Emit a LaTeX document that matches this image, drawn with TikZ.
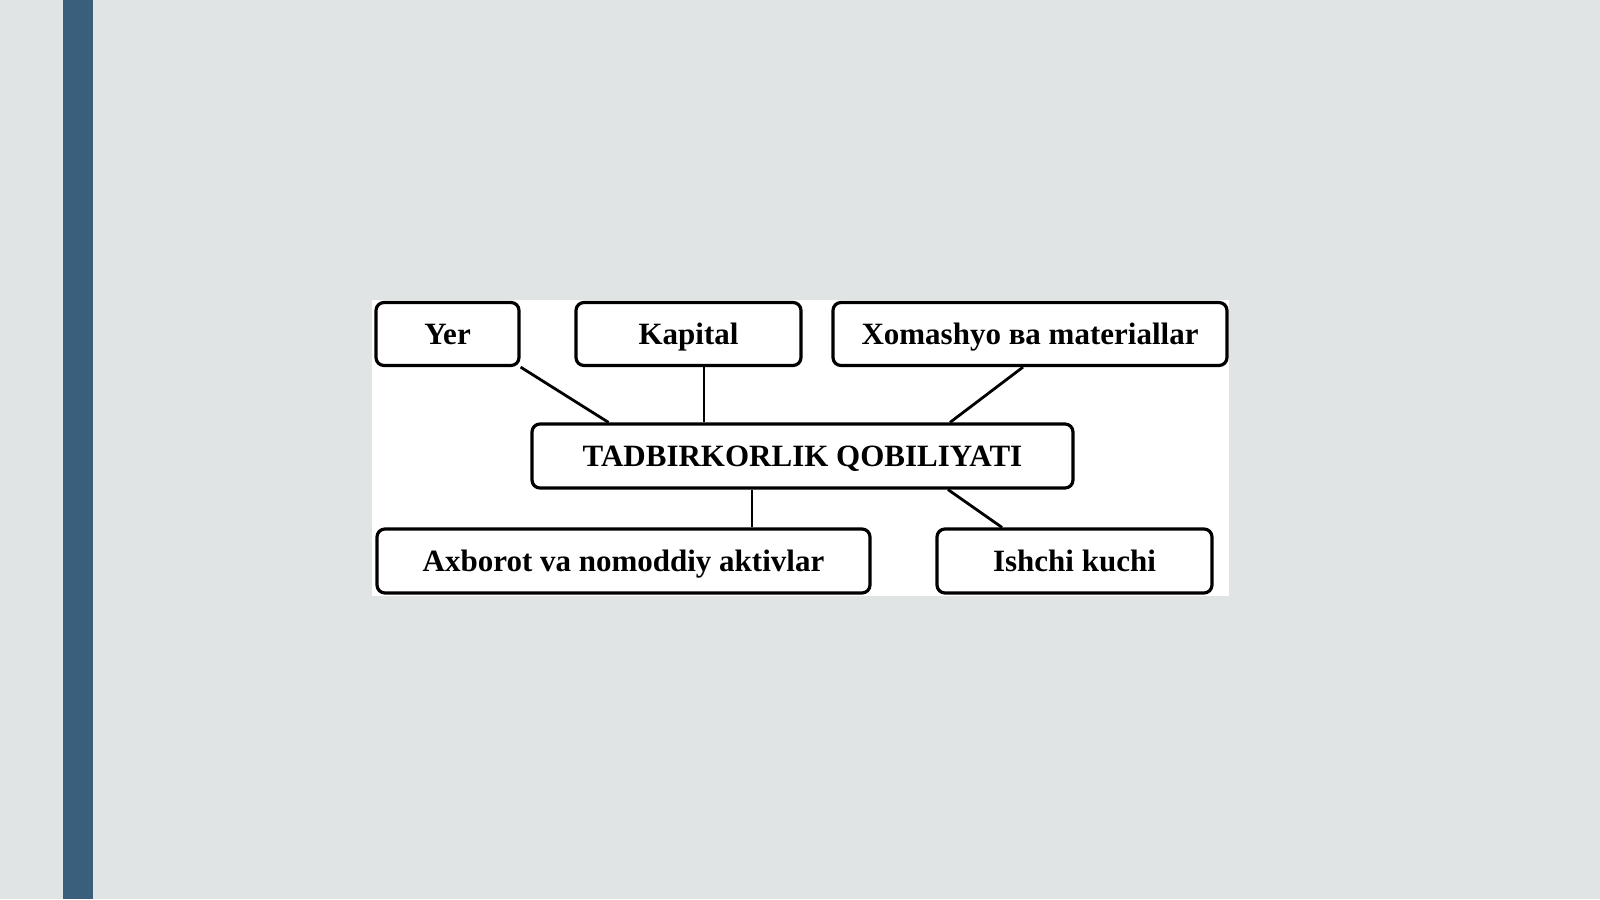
\documentclass[tikz,border=0pt]{standalone}
\usepackage{fontspec}
\setmainfont{Liberation Serif}
\definecolor{slidegray}{RGB}{224,228,229}
\definecolor{barblue}{RGB}{58,95,125}
\tikzset{
  resbox/.style={draw, line width=1.6pt, rounded corners=4pt, fill=white, inner sep=0pt,
    minimum height=31.5pt, text height=10.2pt, text depth=0pt,
    font=\bfseries\fontsize{15.5}{18}\selectfont},
  link/.style={line width=1.4pt}
}
\begin{document}
\begin{tikzpicture}[x=0.5pt,y=-0.5pt]
\useasboundingbox (0,0) rectangle (1600,899);
\fill[slidegray] (0,0) rectangle (1600,899);
\fill[barblue] (63,0) rectangle (93,899);
\fill[white] (372,300) rectangle (1229,596);
\node[resbox, minimum width=71.5pt] (yer) at (447.5,334) {Yer};
\node[resbox, minimum width=112.5pt] (kapital) at (688.5,334) {Kapital};
\node[resbox, minimum width=197pt] (xomashyo) at (1030,334) {Xomashyo ва materiallar};
\node[resbox, minimum width=270.5pt, minimum height=32pt] (tadbir) at (802.5,456) {TADBIRKORLIK QOBILIYATI};
\node[resbox, minimum width=246.5pt, minimum height=32pt] (axborot) at (623.5,561) {Axborot va nomoddiy aktivlar};
\node[resbox, minimum width=137.5pt, minimum height=32pt] (ishchi) at (1074.5,561) {Ishchi kuchi};
\draw[link] (yer.south east) -- ([xshift=-97pt]tadbir.north);
\draw[link] ([xshift=7.75pt]kapital.south) -- ([xshift=7.75pt]kapital.south |- tadbir.north);
\draw[link] ([xshift=-3.5pt]xomashyo.south) -- ([xshift=73.75pt]tadbir.north);
\draw[link] ([xshift=-25.25pt]tadbir.south) -- ([xshift=-25.25pt]tadbir.south |- axborot.north);
\draw[link] ([xshift=72.75pt]tadbir.south) -- ([xshift=-36.25pt]ishchi.north);
\end{tikzpicture}
\end{document}
